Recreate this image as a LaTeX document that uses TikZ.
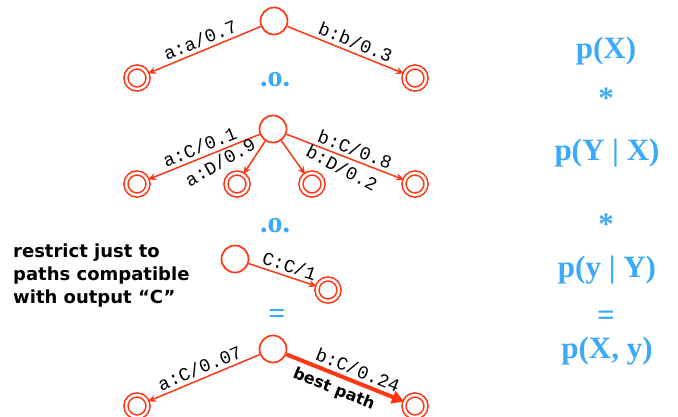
\documentclass[tikz,border=0pt]{standalone}
\usepackage{fontspec}
\setmainfont{Liberation Serif}
\newfontfamily\vsans{DejaVu Sans}
\newfontfamily\cmono{Liberation Mono}
\usetikzlibrary{arrows.meta}
\definecolor{fsared}{RGB}{255,55,20}
\definecolor{fsablue}{RGB}{60,170,250}
\begin{document}
\begin{tikzpicture}[x=1pt,y=-1pt,
  startst/.style={circle, draw=fsared, line width=1.7pt, minimum size=27pt, inner sep=0pt},
  finalst/.style={circle, draw=fsared, double, double distance=2.4pt, line width=1.6pt, minimum size=22pt, inner sep=0pt},
  trans/.style={draw=fsared, line width=1.5pt, -{Stealth[length=8pt,width=7pt]}},
  bestarrow/.style={draw=fsared, line width=4pt, -{Triangle[length=12pt,width=13pt]}},
  lbl/.style={font=\cmono\fontsize{18.5}{18.5}\selectfont, inner sep=3.5pt},
  comp/.style={font=\bfseries\fontsize{30}{30}\selectfont, text=fsablue, inner sep=0pt},
  eqn/.style={font=\bfseries\fontsize{31}{31}\selectfont, text=fsablue, inner sep=0pt, anchor=base},
  note/.style={font=\vsans\bfseries\fontsize{18}{23}\selectfont, align=left, inner sep=0pt, anchor=base west},
  bestlbl/.style={font=\vsans\bfseries\fontsize{16}{16}\selectfont, inner sep=5pt}
]
\useasboundingbox (0,0) rectangle (678,416);
\fill[white] (0,0) rectangle (678,416);

% Row 1
\node[startst] (s1) at (274,21) {};
\node[finalst] (f1a) at (137,78) {};
\node[finalst] (f1b) at (415,78) {};
\draw[trans] (s1) -- node[lbl, sloped, above] {a:a/0.7} (f1a);
\draw[trans] (s1) -- node[lbl, sloped, above, pos=0.55] {b:b/0.3} (f1b);
\node[comp] (o1) at (275,80) {.o.};

% Row 2
\node[startst] (s2) at (273,129) {};
\node[finalst] (f2a) at (137,184) {};
\node[finalst] (f2b) at (237,184) {};
\node[finalst] (f2c) at (312,184) {};
\node[finalst] (f2d) at (415,184) {};
\draw[trans] (s2) -- node[lbl, sloped, above] {a:C/0.1} (f2a);
\draw[trans] (s2) -- (f2b);
\draw[trans] (s2) -- (f2c);
\draw[trans] (s2) -- node[lbl, sloped, above, pos=0.55] {b:C/0.8} (f2d);
\node[lbl, rotate=30] (l2b) at (220,162) {a:D/0.9};
\node[lbl, rotate=-28] (l2c) at (342,168) {b:D/0.2};
\node[comp] (o2) at (275,226) {.o.};

% Row 3
\node[startst] (s3) at (235,259) {};
\node[finalst] (f3) at (328,290) {};
\draw[trans] (s3) -- node[lbl, sloped, above, pos=0.55] {C:C/1} (f3);
\node[note] (txt) at (13,303) {restrict just to\\paths compatible\\with output “C”};
\node[comp] (eq1) at (277,316) {=};

% Row 4
\node[startst] (s4) at (273,349) {};
\node[finalst] (f4a) at (137,406) {};
\node[finalst] (f4b) at (415,406) {};
\draw[trans] (s4) -- node[lbl, sloped, above] {a:C/0.07} (f4a);
\draw[bestarrow] (s4) -- node[lbl, sloped, above, pos=0.57] {b:C/0.24}
   node[bestlbl, sloped, below, pos=0.45] {best path} (f4b);

% Right column
\node[eqn] (px) at (606,58) {p(X)};
\node[eqn] (st1) at (606,108) {*};
\node[eqn] (pyx) at (607,160) {p(Y | X)};
\node[eqn] (st2) at (606,234) {*};
\node[eqn] (pyy) at (607,277) {p(y | Y)};
\node[eqn] (eq2) at (606,325) {=};
\node[eqn] (pxy) at (607,358) {p(X, y)};
\end{tikzpicture}
\end{document}
